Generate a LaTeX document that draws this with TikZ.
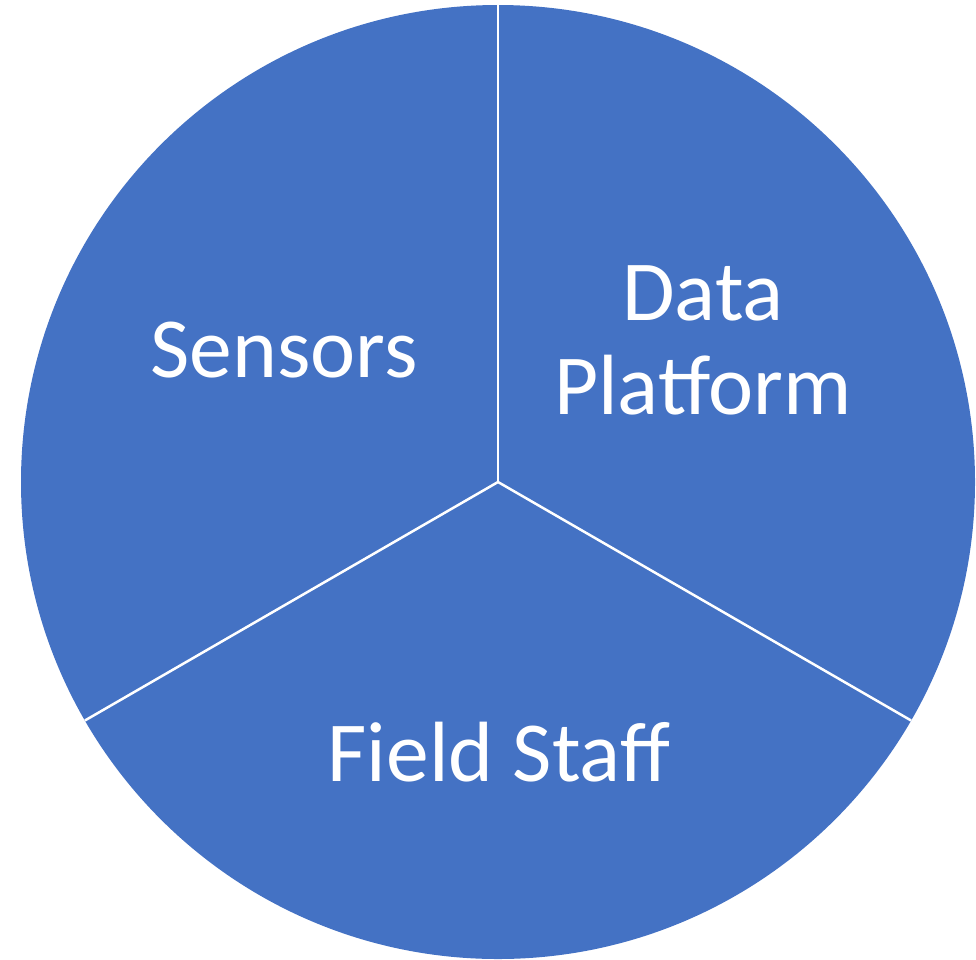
\documentclass[tikz,border=0pt]{standalone}
\usepackage{fontspec}
\setmainfont{Carlito}
\usetikzlibrary{calc}
\definecolor{pieblue}{HTML}{4472C4}
\begin{document}
\begin{tikzpicture}[x=1pt,y=-1pt,
  lbl/.style={text=white,font=\fontsize{85.5}{94}\selectfont,align=center,inner sep=0pt},
  sep/.style={draw=white,line width=2.5pt}]
\useasboundingbox (0,0) rectangle (976,959);
\coordinate (c) at (498,482);
\fill[pieblue] (c) circle[radius=477];
\coordinate (top) at ($(c)+(270:477)$);
\coordinate (ll) at ($(c)+(150:477)$);
\coordinate (lr) at ($(c)+(30:477)$);
\draw[sep] (c) -- (top);
\draw[sep] (c) -- (ll);
\draw[sep] (c) -- (lr);
\node[lbl] (sensors) at (284,350) {Sensors};
\node[lbl] (data) at (703,340) {Data\\Platform};
\node[lbl] (field) at (499,752) {Field Staff};
\end{tikzpicture}
\end{document}
